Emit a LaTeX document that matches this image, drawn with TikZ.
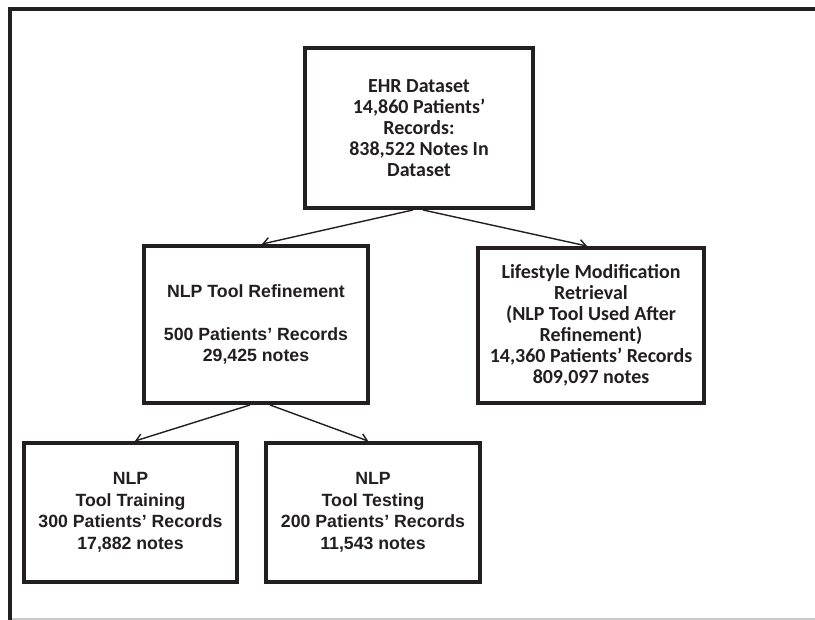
\documentclass[tikz,border=0pt]{standalone}
\usepackage{fontspec}
\setmainfont{Liberation Sans}
\newfontfamily\calibfont[Ligatures=TeX]{Carlito}
\usepackage{tikz}
\usetikzlibrary{positioning, arrows.meta}
\definecolor{lineblack}{HTML}{231F20}
\definecolor{framegray}{HTML}{C8C8C8}
\tikzset{
	boxnode/.style={
			rectangle,
			draw=lineblack,
			line width=2.8pt,
			fill=white,
			text=lineblack,
			align=center,
			inner sep=0pt
		},
	arialnode/.style={
			boxnode,
			font=\bfseries\fontsize{12.6}{15.3}\selectfont
		},
	calibnode/.style={
			boxnode,
			font=\calibfont\bfseries\fontsize{14.2}{14.9}\selectfont
		},
	arrowedge/.style={
			draw=lineblack,
			line width=1pt,
			-{Straight Barb[length=1.6mm, width=2.4mm]}
		}
}
\begin{document}
\begin{tikzpicture}
\useasboundingbox (0,0) rectangle (20.375,-15.5);
\draw[framegray, line width=1pt] (0.25,-15.475) -- (20.375,-15.475);
\draw[lineblack, line width=2.8pt] (0.25,-15.5) -- (0.25,-0.225) -- (20.375,-0.225);

\node[calibnode, minimum width=5.7cm, minimum height=4cm] (n1) at (10.475,-3.2)
  {EHR Dataset\\14,860 Patients’\\Records:\\838,522 Notes In\\Dataset};
\node[arialnode, minimum width=5.6cm, minimum height=3.925cm] (n2) at (6.4,-8.1125)
  {NLP Tool Refinement\\[15.3pt]500 Patients’ Records\\29,425 notes};
\node[calibnode, minimum width=5.65cm, minimum height=3.875cm] (n3) at (14.775,-8.1375)
  {Lifestyle Modification\\Retrieval\\(NLP Tool Used After\\Refinement)\\14,360 Patients’ Records\\809,097 notes};
\node[arialnode, minimum width=5.325cm, minimum height=3.475cm] (n4) at (3.2625,-12.8125)
  {NLP\\Tool Training\\300 Patients’ Records\\17,882 notes};
\node[arialnode, minimum width=5.35cm, minimum height=3.475cm] (n5) at (9.325,-12.8125)
  {NLP\\Tool Testing\\200 Patients’ Records\\11,543 notes};

\draw[arrowedge] ([xshift=-0.15cm]n1.south) -- ([xshift=0.15cm]n2.north);
\draw[arrowedge] ([xshift=0.1cm]n1.south) -- ([xshift=-0.1cm]n3.north);

\draw[arrowedge] ([xshift=-0.15cm]n2.south) -- ([xshift=0.11cm]n4.north);
\draw[arrowedge] ([xshift=0.35cm]n2.south) -- ([xshift=-0.12cm]n5.north);

\end{tikzpicture}
\end{document}
